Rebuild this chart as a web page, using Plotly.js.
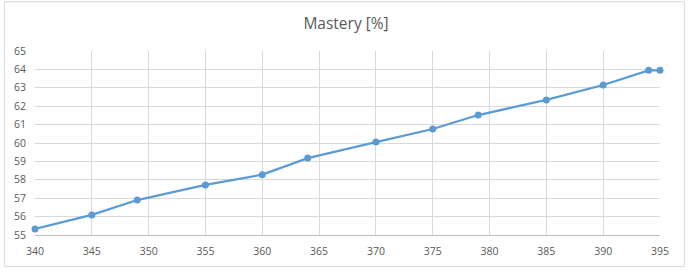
<!DOCTYPE html>
<html>
<head>
<meta charset="utf-8">
<script src="https://cdn.plot.ly/plotly-3.0.1.min.js"></script>
<style>
html,body{margin:0;padding:0;background:#fff;}
#chart{width:692px;height:275px;}
</style>
</head>
<body>
<div id="chart"></div>
<script>
const xValues = [340, 345, 349, 355, 360, 364, 370, 375, 379, 385, 390, 394, 395];
const mastery = [55.33, 56.09, 56.90, 57.72, 58.28, 59.18, 60.05, 60.76, 61.52, 62.34, 63.15, 63.95, 63.95];
const xTicks = [340, 345, 350, 355, 360, 365, 370, 375, 380, 385, 390, 395];
const yTicks = [55, 56, 57, 58, 59, 60, 61, 62, 63, 64, 65];
const titleText = "Mastery [%]";

const trace = {
  x: xValues,
  y: mastery,
  type: 'scatter',
  mode: 'lines+markers',
  cliponaxis: false,
  line: {color: '#5B9BD5', width: 2.25},
  marker: {color: '#5B9BD5', size: 7},
  hoverinfo: 'none'
};

const tickFont = {family: 'Open Sans, sans-serif', size: 10.5, color: '#595959'};

const layout = {
  width: 692,
  height: 275,
  margin: {l: 35, r: 32, t: 51, b: 40},
  paper_bgcolor: '#ffffff',
  plot_bgcolor: '#ffffff',
  showlegend: false,
  title: {
    text: titleText,
    font: {family: 'Open Sans, sans-serif', size: 15.5, color: '#595959'},
    x: 0.5, xanchor: 'center',
    y: 0.915, yanchor: 'middle', yref: 'container'
  },
  xaxis: {
    range: [340, 395],
    tickvals: xTicks,
    ticktext: xTicks.map(String),
    showgrid: true,
    gridcolor: '#d9d9d9',
    gridwidth: 1,
    zeroline: false,
    showline: true,
    linecolor: '#bfbfbf',
    linewidth: 1,
    ticks: 'outside',
    ticklen: 6,
    tickcolor: 'rgba(0,0,0,0)',
    tickfont: tickFont,
    fixedrange: true
  },
  yaxis: {
    range: [55, 65],
    tickvals: yTicks,
    ticktext: yTicks.map(String),
    showgrid: true,
    gridcolor: '#d9d9d9',
    gridwidth: 1,
    zeroline: false,
    showline: false,
    ticks: 'outside',
    ticklen: 6,
    tickcolor: 'rgba(0,0,0,0)',
    tickfont: tickFont,
    fixedrange: true
  },
  shapes: [{
    type: 'rect',
    xref: 'paper', yref: 'paper',
    x0: -0.0488, x1: 1.0392, y0: -0.172, y1: 1.268,
    line: {color: '#d9d9d9', width: 1},
    fillcolor: 'rgba(0,0,0,0)',
    layer: 'below'
  }]
};

Plotly.newPlot('chart', [trace], layout, {displayModeBar: false, staticPlot: true});
</script>
</body>
</html>
